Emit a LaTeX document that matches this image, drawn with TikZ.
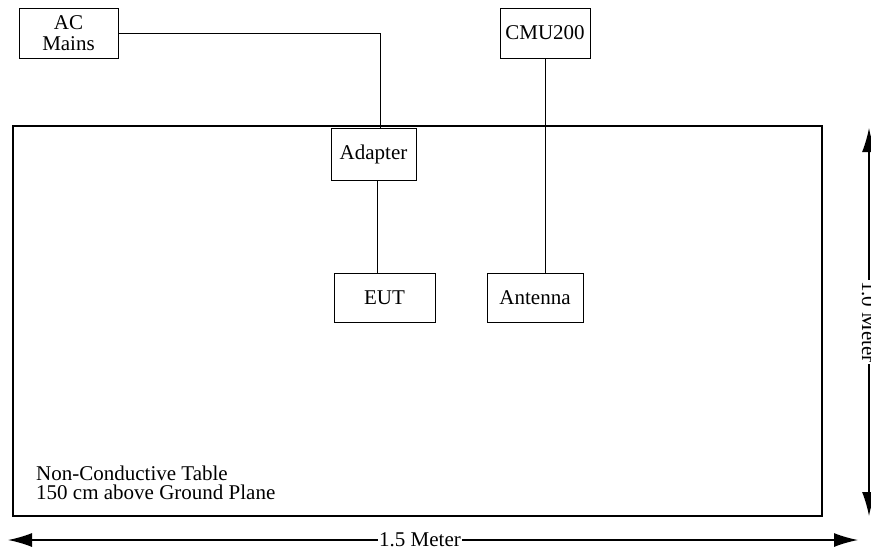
\documentclass[tikz,border=0pt]{standalone}
\usepackage{fontspec}
\setmainfont{Liberation Serif}
\usepackage{tikz}
\usetikzlibrary{arrows.meta,positioning,calc}

\begin{document}
\begin{tikzpicture}[x=1pt, y=-1pt,
  box/.style={rectangle, draw, line width=0.9pt, inner sep=0pt, align=center,
    font=\fontsize{21}{22}\selectfont},
  wire/.style={line width=0.6pt},
  dim/.style={line width=1.4pt, {Latex[length=24pt,width=14pt]}-{Latex[length=24pt,width=14pt]}},
  dimlabel/.style={fill=white, inner sep=1pt, font=\fontsize{21}{22}\selectfont}]
\useasboundingbox (0,0) rectangle (871,560);

% table top
\draw[line width=2.6pt] (13,126) rectangle (822,516);
\node[anchor=west, align=left, inner sep=0pt, font=\fontsize{21}{19}\selectfont] (tbl) at (36,483)
  {Non-Conductive Table\\150 cm above Ground Plane};

% equipment
\node[box, minimum width=99pt, minimum height=50pt] (ac) at (68.5,33) {AC\\[-1pt]Mains};
\node[box, minimum width=90pt, minimum height=50pt] (cmu) at (545,33) {CMU200};
\node[box, fill=white, minimum width=85pt, minimum height=52pt] (adp) at (373.5,154) {Adapter};
\node[box, minimum width=101pt, minimum height=49pt] (eut) at (384.5,297.5) {EUT};
\node[box, minimum width=96pt, minimum height=49pt] (ant) at (535,297.5) {Antenna};

\draw[wire] (ac.east) -| ([xshift=6.5pt]adp.north);
\draw[wire] ([xshift=3.5pt]adp.south) -- ([xshift=3.5pt]adp.south |- eut.north);
\draw[wire] (cmu.south) -- (cmu.south |- ant.north);

% dimensions
\coordinate (wl) at (8,540);
\coordinate (wr) at (858,540);
\draw[dim] (wl) -- (wr);
\node[dimlabel] (wlab) at (420,540) {1.5 Meter};
\coordinate (ht) at (869,128);
\coordinate (hb) at (869,516);
\draw[dim] (ht) -- (hb);
\node[dimlabel, rotate=-90] (hlab) at (869,322) {1.0 Meter};
\end{tikzpicture}
\end{document}
